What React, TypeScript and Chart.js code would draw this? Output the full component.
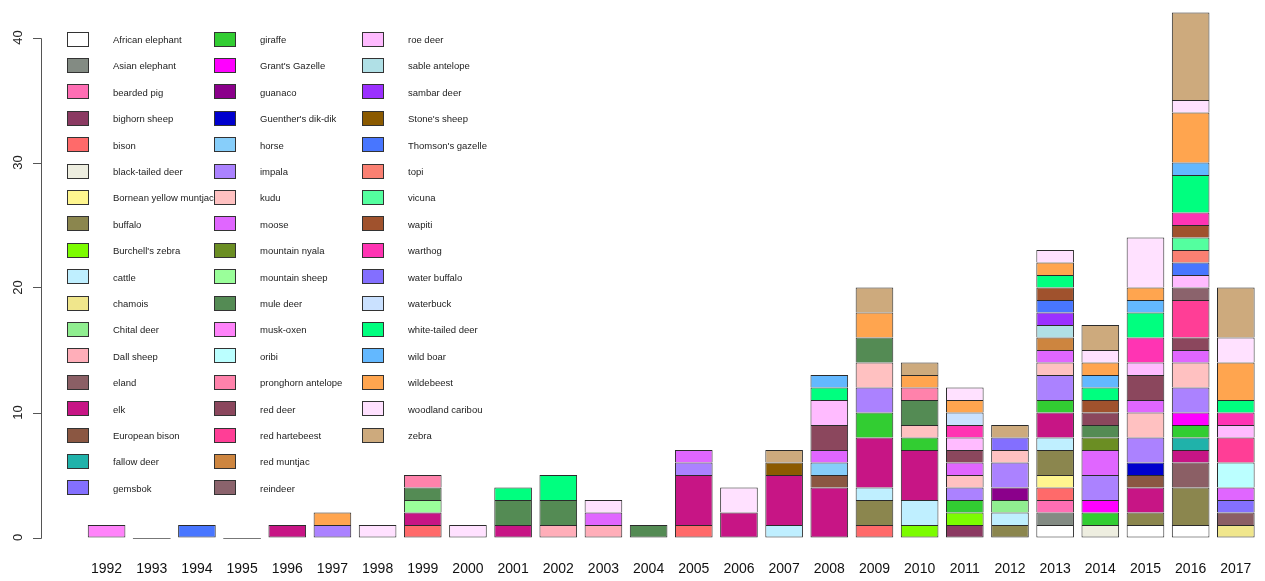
import React, { useEffect, useRef } from 'react';
import { Chart, registerables } from 'chart.js';

Chart.register(...registerables);

const years = ['1992', '1993', '1994', '1995', '1996', '1997', '1998', '1999', '2000', '2001', '2002', '2003', '2004', '2005', '2006', '2007', '2008', '2009', '2010', '2011', '2012', '2013', '2014', '2015', '2016', '2017'];

const species = [
  'African elephant', 'Asian elephant', 'bearded pig', 'bighorn sheep', 'bison', 'black-tailed deer',
  'Bornean yellow muntjac', 'buffalo', "Burchell's zebra", 'cattle', 'chamois', 'Chital deer',
  'Dall sheep', 'eland', 'elk', 'European bison', 'fallow deer', 'gemsbok',
  'giraffe', "Grant's Gazelle", 'guanaco', "Guenther's dik-dik", 'horse', 'impala',
  'kudu', 'moose', 'mountain nyala', 'mountain sheep', 'mule deer', 'musk-oxen',
  'oribi', 'pronghorn antelope', 'red deer', 'red hartebeest', 'red muntjac', 'reindeer',
  'roe deer', 'sable antelope', 'sambar deer', "Stone's sheep", "Thomson's gazelle", 'topi',
  'vicuna', 'wapiti', 'warthog', 'water buffalo', 'waterbuck', 'white-tailed deer',
  'wild boar', 'wildebeest', 'woodland caribou', 'zebra',
];

const speciesColors = [
  '#FFFFFF', '#838B83', '#FF6EB4', '#8B3A62', '#FF6A6A', '#EEEEE0',
  '#FFF68F', '#8B864E', '#7CFC00', '#BFEFFF', '#F0E68C', '#90EE90',
  '#FFAEB9', '#8B5F65', '#C71585', '#8B5742', '#20B2AA', '#8470FF',
  '#32CD32', '#FF00FF', '#8B008B', '#0000CD', '#87CEFA', '#AB82FF',
  '#FFC1C1', '#E066FF', '#6B8E23', '#9AFF9A', '#548B54', '#FF83FA',
  '#BBFFFF', '#FF82AB', '#8B475D', '#FF3E96', '#CD853F', '#8B636C',
  '#FFBBFF', '#B0E0E6', '#9B30FF', '#8B5A00', '#4876FF', '#FA8072',
  '#54FF9F', '#A0522D', '#FF34B3', '#836FFF', '#CAE1FF', '#00FF7F',
  '#63B8FF', '#FFA54F', '#FFE1FF', '#CDAA7D',
];

const yTicks = [0, 10, 20, 30, 40];

type Entry = [string, number];

const c1992: Entry[] = [['musk-oxen', 1]];
const c1993: Entry[] = [];
const c1994: Entry[] = [["Thomson's gazelle", 1]];
const c1995: Entry[] = [];
const c1996: Entry[] = [['elk', 1]];
const c1997: Entry[] = [['impala', 1], ['wildebeest', 1]];
const c1998: Entry[] = [['woodland caribou', 1]];
const c1999: Entry[] = [['bison', 1], ['elk', 1], ['mountain sheep', 1], ['mule deer', 1], ['pronghorn antelope', 1]];
const c2000: Entry[] = [['woodland caribou', 1]];
const c2001: Entry[] = [['elk', 1], ['mule deer', 2], ['white-tailed deer', 1]];
const c2002: Entry[] = [['Dall sheep', 1], ['mule deer', 2], ['white-tailed deer', 2]];
const c2003: Entry[] = [['Dall sheep', 1], ['moose', 1], ['woodland caribou', 1]];
const c2004: Entry[] = [['mule deer', 1]];
const c2005: Entry[] = [['bison', 1], ['elk', 4], ['impala', 1], ['moose', 1]];
const c2006: Entry[] = [['elk', 2], ['woodland caribou', 2]];
const c2007: Entry[] = [['cattle', 1], ['elk', 4], ["Stone's sheep", 1], ['zebra', 1]];
const c2008: Entry[] = [['elk', 4], ['European bison', 1], ['horse', 1], ['moose', 1], ['red deer', 2], ['roe deer', 2], ['white-tailed deer', 1], ['wild boar', 1]];
const c2009: Entry[] = [['bison', 1], ['buffalo', 2], ['cattle', 1], ['elk', 4], ['giraffe', 2], ['impala', 2], ['kudu', 2], ['mule deer', 2], ['wildebeest', 2], ['zebra', 2]];
const c2010: Entry[] = [["Burchell's zebra", 1], ['cattle', 2], ['elk', 4], ['giraffe', 1], ['kudu', 1], ['mule deer', 2], ['pronghorn antelope', 1], ['wildebeest', 1], ['zebra', 1]];
const c2011: Entry[] = [['bighorn sheep', 1], ["Burchell's zebra", 1], ['giraffe', 1], ['impala', 1], ['kudu', 1], ['moose', 1], ['red deer', 1], ['roe deer', 1], ['warthog', 1], ['waterbuck', 1], ['wildebeest', 1], ['woodland caribou', 1]];
const c2012: Entry[] = [['buffalo', 1], ['cattle', 1], ['Chital deer', 1], ['guanaco', 1], ['impala', 2], ['kudu', 1], ['water buffalo', 1], ['zebra', 1]];
const c2013: Entry[] = [['African elephant', 1], ['Asian elephant', 1], ['bearded pig', 1], ['bison', 1], ['Bornean yellow muntjac', 1], ['buffalo', 2], ['cattle', 1], ['elk', 2], ['giraffe', 1], ['impala', 2], ['kudu', 1], ['moose', 1], ['red muntjac', 1], ['sable antelope', 1], ['sambar deer', 1], ["Thomson's gazelle", 1], ['wapiti', 1], ['white-tailed deer', 1], ['wildebeest', 1], ['woodland caribou', 1]];
const c2014: Entry[] = [['black-tailed deer', 1], ['giraffe', 1], ["Grant's Gazelle", 1], ['impala', 2], ['moose', 2], ['mountain nyala', 1], ['mule deer', 1], ['red deer', 1], ['wapiti', 1], ['white-tailed deer', 1], ['wild boar', 1], ['wildebeest', 1], ['woodland caribou', 1], ['zebra', 2]];
const c2015: Entry[] = [['African elephant', 1], ['buffalo', 1], ['elk', 2], ['European bison', 1], ["Guenther's dik-dik", 1], ['impala', 2], ['kudu', 2], ['moose', 1], ['red deer', 2], ['roe deer', 1], ['warthog', 2], ['white-tailed deer', 2], ['wild boar', 1], ['wildebeest', 1], ['woodland caribou', 4]];
const c2016: Entry[] = [['African elephant', 1], ['buffalo', 3], ['eland', 2], ['elk', 1], ['fallow deer', 1], ['giraffe', 1], ["Grant's Gazelle", 1], ['impala', 2], ['kudu', 2], ['moose', 1], ['red deer', 1], ['red hartebeest', 3], ['reindeer', 1], ['roe deer', 1], ["Thomson's gazelle", 1], ['topi', 1], ['vicuna', 1], ['wapiti', 1], ['warthog', 1], ['white-tailed deer', 3], ['wild boar', 1], ['wildebeest', 4], ['woodland caribou', 1], ['zebra', 7]];
const c2017: Entry[] = [['chamois', 1], ['eland', 1], ['gemsbok', 1], ['moose', 1], ['oribi', 2], ['red hartebeest', 2], ['roe deer', 1], ['warthog', 1], ['white-tailed deer', 1], ['wildebeest', 3], ['woodland caribou', 2], ['zebra', 4]];

const yearCounts: Entry[][] = [c1992, c1993, c1994, c1995, c1996, c1997, c1998, c1999, c2000, c2001, c2002, c2003, c2004, c2005, c2006, c2007, c2008, c2009, c2010, c2011, c2012, c2013, c2014, c2015, c2016, c2017];

const FONT = '"Liberation Sans", Arial, sans-serif';

export default function App() {
  const ref = useRef<HTMLCanvasElement | null>(null);

  useEffect(() => {
    if (!ref.current) return;
    const matrix = species.map((name) =>
      yearCounts.map((list) => {
        const e = list.find(([n]) => n === name);
        return e ? e[1] : 0;
      })
    );

    const datasets = species.map((name, si) => ({
      label: name,
      data: matrix[si],
      backgroundColor: speciesColors[si],
      borderColor: '#2b2b2b',
      borderWidth: 1,
      borderSkipped: (ctx: any) => {
        const i = ctx.dataIndex;
        for (let d = 0; d < ctx.datasetIndex; d++) if (matrix[d][i] > 0) return 'start';
        return false;
      },
      barPercentage: 0.833,
      categoryPercentage: 1,
    }));

    const drawPlugin = {
      id: 'rStyle',
      afterDraw(chart: any) {
        const ctx = chart.ctx;
        const ys = chart.scales.y;
        const xs = chart.scales.x;
        ctx.save();
        // y axis (R style, detached)
        const yb = ys.getPixelForValue(yTicks[0]);
        const yt = ys.getPixelForValue(yTicks[yTicks.length - 1]);
        ctx.strokeStyle = '#555';
        ctx.lineWidth = 1;
        ctx.beginPath();
        ctx.moveTo(41.5, Math.round(yb) + 0.5);
        ctx.lineTo(41.5, Math.round(yt) + 0.5);
        yTicks.forEach((t) => {
          const py = Math.round(ys.getPixelForValue(t)) + 0.5;
          ctx.moveTo(33, py);
          ctx.lineTo(41.5, py);
        });
        ctx.stroke();
        ctx.fillStyle = '#222';
        ctx.font = '13px ' + FONT;
        ctx.textAlign = 'center';
        ctx.textBaseline = 'alphabetic';
        yTicks.forEach((t) => {
          const py = ys.getPixelForValue(t);
          ctx.save();
          ctx.translate(21.7, py);
          ctx.rotate(-Math.PI / 2);
          ctx.fillText(String(t), 0, 0);
          ctx.restore();
        });
        // x labels
        ctx.font = '14px ' + FONT;
        ctx.fillStyle = '#111';
        years.forEach((yr, i) => {
          ctx.fillText(yr, xs.getPixelForValue(i), 573.3);
        });
        // zero-height bars drawn as lines
        const meta0 = chart.getDatasetMeta(0);
        const y0 = Math.round(ys.getPixelForValue(0)) + 0.5;
        ctx.strokeStyle = '#777';
        years.forEach((_, i) => {
          const total = matrix.reduce((s, row) => s + row[i], 0);
          if (total === 0) {
            const el = meta0.data[i];
            const cx = xs.getPixelForValue(i);
            const w = el && el.width ? el.width : 37;
            ctx.beginPath();
            ctx.moveTo(cx - w / 2, y0);
            ctx.lineTo(cx + w / 2, y0);
            ctx.stroke();
          }
        });
        // legend (3 columns, filled by column)
        const rows = Math.ceil(species.length / 3);
        ctx.font = '9.5px ' + FONT;
        ctx.textAlign = 'left';
        ctx.textBaseline = 'middle';
        species.forEach((name, idx) => {
          const col = Math.floor(idx / rows);
          const row = idx % rows;
          const sx = Math.round(66.7 + col * 147.7);
          const sy = 38.5 + row * 26.4;
          const top = Math.round(sy - 7);
          ctx.fillStyle = speciesColors[idx];
          ctx.fillRect(sx, top, 21, 14);
          ctx.strokeStyle = '#333';
          ctx.strokeRect(sx + 0.5, top + 0.5, 21, 14);
          ctx.fillStyle = '#222';
          ctx.fillText(name, sx + 46, sy + 1.8);
        });
        ctx.restore();
      },
    };

    const chart = new Chart(ref.current, {
      type: 'bar',
      data: { labels: years, datasets: datasets as any },
      options: {
        responsive: false,
        animation: false,
        devicePixelRatio: 1,
        layout: { padding: { left: 84, right: 6.6, top: 5, bottom: 21 } },
        plugins: { legend: { display: false }, tooltip: { enabled: false } },
        scales: {
          x: { stacked: true, display: false },
          y: { stacked: true, display: false, min: -1.8, max: 42.6 },
        },
      },
      plugins: [drawPlugin],
    });
    return () => chart.destroy();
  }, []);

  return (
    <div style={{ position: 'absolute', left: 0, top: 0, width: 1265, height: 581, background: '#fff' }}>
      <canvas ref={ref} width={1265} height={581} style={{ display: 'block' }} />
    </div>
  );
}
